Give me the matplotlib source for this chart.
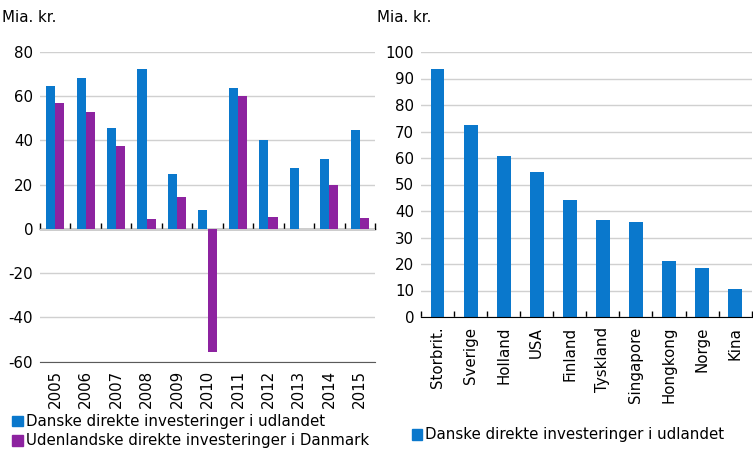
import matplotlib
matplotlib.use("Agg")
from matplotlib import pyplot as plt
from matplotlib.patches import Patch
import numpy as np

years = ['2005', '2006', '2007', '2008', '2009', '2010',
         '2011', '2012', '2013', '2014', '2015']
danske_udl = [64.7, 68.3, 45.7, 72.4, 24.9, 8.6, 63.7, 40.1, 27.6, 31.7, 44.8]
udl_dk = [56.9, 52.9, 37.6, 4.5, 14.5, -55.5, 60.0, 5.4, 0.0, 20.0, 5.0]

lande = ['Storbrit.', 'Sverige', 'Holland', 'USA', 'Finland', 'Tyskland',
         'Singapore', 'Hongkong', 'Norge', 'Kina']
lande_vaerdi = [93.7, 72.5, 60.8, 54.8, 44.2, 36.6, 35.9, 21.2, 18.5, 10.6]

blue = '#0a78cc'
purple = '#8d23a0'
grid_c = '#d0d0d0'

plt.rcParams['font.family'] = ['DejaVu Sans']
plt.rcParams['font.size'] = 10.8
plt.rcParams['axes.unicode_minus'] = False

fig = plt.figure(figsize=(7.53, 4.5), dpi=100)

# ---- left chart
ax1 = fig.add_axes([40/753, 1-361.7/450, (375-40)/753, (361.7-52)/450])
x = np.arange(len(years))
ax1.bar(x - 0.15, danske_udl, width=0.3, color=blue, zorder=2)
ax1.bar(x + 0.15, udl_dk, width=0.3, color=purple, zorder=2)
ax1.set_xlim(-0.5, len(years) - 0.5)
ax1.set_ylim(-60, 80)
ax1.set_yticks(range(-60, 81, 20))
ax1.yaxis.grid(True, color=grid_c, linewidth=1, zorder=0)
ax1.set_axisbelow(True)
for s in ['top', 'right', 'left']:
    ax1.spines[s].set_visible(False)
ax1.spines['bottom'].set_color('#5a5a5a')
ax1.set_xticks(x)
ax1.set_xticklabels(years, rotation=90)
ax1.tick_params(axis='x', length=0, pad=6)
ax1.tick_params(axis='y', length=0, pad=5)

# zero line with ticks between categories
sec = ax1.secondary_xaxis(60/140)
sec.set_xticks(np.arange(-0.5, len(years), 1.0))
sec.set_xticklabels([])
sec.tick_params(direction='in', length=4.5, width=1, color='black')
sec.spines['bottom'].set_color('black')
sec.spines['bottom'].set_linewidth(1)

fig.text(2/753, 1-18/450, 'Mia. kr.', ha='left', va='center')

fig.legend(handles=[Patch(color=blue, label='Danske direkte investeringer i udlandet'),
                    Patch(color=purple, label='Udenlandske direkte investeringer i Danmark')],
           loc='upper left', bbox_to_anchor=(12/753, 1-414/450), frameon=False,
           handlelength=0.7, handleheight=0.7, handletextpad=0.2,
           labelspacing=0.3, borderaxespad=0, borderpad=0)

# ---- right chart
ax2 = fig.add_axes([421/753, 1-317/450, (751.7-421)/753, (317-52)/450])
x2 = np.arange(len(lande))
ax2.bar(x2, lande_vaerdi, width=0.42, color=blue, zorder=2)
ax2.set_xlim(-0.5, len(lande) - 0.5)
ax2.set_ylim(0, 100)
ax2.set_yticks(range(0, 101, 10))
ax2.yaxis.grid(True, color=grid_c, linewidth=1, zorder=0)
ax2.set_axisbelow(True)
for s in ['top', 'right', 'left']:
    ax2.spines[s].set_visible(False)
ax2.spines['bottom'].set_color('black')
ax2.set_xticks(x2)
ax2.set_xticklabels(lande, rotation=90)
ax2.set_xticks(np.arange(-0.5, len(lande), 1.0), minor=True)
ax2.tick_params(axis='x', which='major', length=0, pad=7)
ax2.tick_params(axis='x', which='minor', direction='in', length=4.5, width=1)
ax2.tick_params(axis='y', length=0, pad=5)

fig.text(377/753, 1-18/450, 'Mia. kr.', ha='left', va='center')

fig.legend(handles=[Patch(color=blue, label='Danske direkte investeringer i udlandet')],
           loc='center left', bbox_to_anchor=(412/753, 1-435/450), frameon=False,
           handlelength=0.7, handleheight=0.7, handletextpad=0.2,
           borderaxespad=0, borderpad=0)

fig.savefig('out.png', dpi=100)
